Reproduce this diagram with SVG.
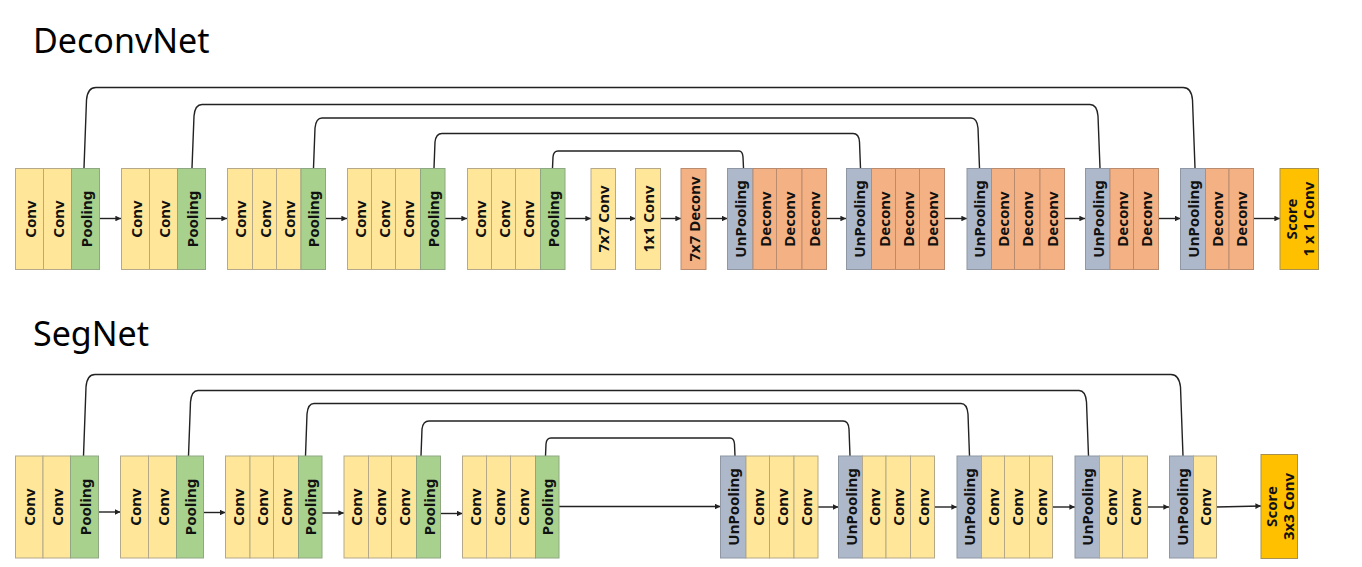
<svg xmlns="http://www.w3.org/2000/svg" width="1362" height="567" viewBox="0 0 1362 567">
<style>
.c{fill:#FFE699;stroke:#B5A98A;stroke-width:1}
.p{fill:#A9D18E;stroke:#8FA883;stroke-width:1}
.u{fill:#ADB9CA;stroke:#8E97A3;stroke-width:1}
.d{fill:#F4B183;stroke:#B98C70;stroke-width:1}
.s{fill:#FFC000;stroke:#A8914F;stroke-width:1}
.t{font-family:"Noto Sans","Open Sans",sans-serif;font-weight:bold;font-size:15px;fill:#111;text-anchor:middle;dominant-baseline:central}
.title{font-family:"Noto Sans","Open Sans",sans-serif;font-size:34px;fill:#000}
.ln{fill:none;stroke:#222;stroke-width:1.4}
.ar{fill:none;stroke:#222;stroke-width:1.4;marker-end:url(#ah)}
</style>
<defs>
<marker id="ah" viewBox="0 0 10 10" refX="10" refY="5" markerWidth="4" markerHeight="4" orient="auto" markerUnits="strokeWidth">
<path d="M0,0 L10,5 L0,10 z" fill="#222"/>
</marker>
</defs>
<rect width="1362" height="567" fill="#fff"/>
<text class="title" x="33" y="53">DeconvNet</text>
<text class="title" x="33" y="346">SegNet</text>

<g id="connectors">
<path class="ln" d="M84 168 L86.5 100 Q87.5 87.5 96 87.5 L1183 87.5 Q1191.5 87.5 1192.5 100 L1195 168"/>
<path class="ln" d="M192 168 L194 116 Q195 104.5 202 104.5 L1090 104.5 Q1097 104.5 1098 116 L1100 168"/>
<path class="ln" d="M313.5 168 L315 128 Q316 118 322 118 L971 118 Q977 118 978 128 L979.5 168"/>
<path class="ln" d="M434 168 L435 142 Q436 133.5 442 133.5 L853 133.5 Q859 133.5 859.5 142 L860.5 168"/>
<path class="ln" d="M552.5 168 L553 157 Q553.5 151 558 151 L739 151 Q742.5 151 743 157 L743.5 168"/>
<path class="ar" d="M99.5 218.5 H121"/>
<path class="ar" d="M205.5 218.5 H227"/>
<path class="ar" d="M325.5 218.5 H347"/>
<path class="ar" d="M445 218.5 H467"/>
<path class="ar" d="M565 218.5 H591"/>
<path class="ar" d="M615.5 218.5 H635.5"/>
<path class="ar" d="M660.5 218.5 H681"/>
<path class="ar" d="M706 218.5 H727.5"/>
<path class="ar" d="M826.5 218.5 H846"/>
<path class="ar" d="M944.5 218.5 H967"/>
<path class="ar" d="M1064.5 218.5 H1085"/>
<path class="ar" d="M1158.5 218.5 H1180.5"/>
<path class="ar" d="M1253.5 218.5 H1280"/>
<path class="ln" d="M83.5 456 L86 387 Q87 374.5 95 374.5 L1171 374.5 Q1179 374.5 1180.5 387 L1183 456"/>
<path class="ln" d="M188.5 456 L190.5 402 Q191.5 390.5 198 390.5 L1079 390.5 Q1085.5 390.5 1086.5 402 L1088.5 456"/>
<path class="ln" d="M305.5 456 L307 414 Q308 403.5 314 403.5 L961 403.5 Q967 403.5 968 414 L969.5 456"/>
<path class="ln" d="M421 456 L422 429 Q423 421 429 421 L843 421 Q848.5 421 849 429 L850 456"/>
<path class="ln" d="M545.5 456 L546 444 Q546.5 438 551 438 L730 438 Q734 438 734.5 444 L735 456"/>
<path class="ar" d="M98.5 512 H120.5"/>
<path class="ar" d="M203.5 512.5 H225.5"/>
<path class="ar" d="M322 513 H344"/>
<path class="ar" d="M440.5 513.5 H462.5"/>
<path class="ar" d="M559 506.5 H720.5"/>
<path class="ar" d="M818 507 H838.5"/>
<path class="ar" d="M934.5 507 H957"/>
<path class="ar" d="M1052.5 507 H1075"/>
<path class="ar" d="M1147.5 507 H1169"/>
<path class="ar" d="M1216.5 507 L1261 506"/>
</g>

<g id="d-enc1">
<rect class="c" x="15.5" y="168.5" width="28" height="101"/><text class="t" transform="translate(29.5,219) rotate(-90)">Conv</text>
<rect class="c" x="43.5" y="168.5" width="28" height="101"/><text class="t" transform="translate(57.5,219) rotate(-90)">Conv</text>
<rect class="p" x="71.5" y="168.5" width="28" height="101"/><text class="t" transform="translate(85.5,219) rotate(-90)">Pooling</text>
</g>
<g id="d-enc2">
<rect class="c" x="121.5" y="168.5" width="28" height="101"/><text class="t" transform="translate(135.5,219) rotate(-90)">Conv</text>
<rect class="c" x="149.5" y="168.5" width="28" height="101"/><text class="t" transform="translate(163.5,219) rotate(-90)">Conv</text>
<rect class="p" x="177.5" y="168.5" width="28" height="101"/><text class="t" transform="translate(191.5,219) rotate(-90)">Pooling</text>
</g>
<g id="d-enc3">
<rect class="c" x="227.5" y="168.5" width="25" height="101"/><text class="t" transform="translate(240,219) rotate(-90)">Conv</text>
<rect class="c" x="252.5" y="168.5" width="24" height="101"/><text class="t" transform="translate(264.5,219) rotate(-90)">Conv</text>
<rect class="c" x="276.5" y="168.5" width="24.5" height="101"/><text class="t" transform="translate(288.75,219) rotate(-90)">Conv</text>
<rect class="p" x="301" y="168.5" width="24.5" height="101"/><text class="t" transform="translate(313.25,219) rotate(-90)">Pooling</text>
</g>
<g id="d-enc4">
<rect class="c" x="347.5" y="168.5" width="24" height="101"/><text class="t" transform="translate(359.5,219) rotate(-90)">Conv</text>
<rect class="c" x="371.5" y="168.5" width="24" height="101"/><text class="t" transform="translate(383.5,219) rotate(-90)">Conv</text>
<rect class="c" x="395.5" y="168.5" width="25" height="101"/><text class="t" transform="translate(408,219) rotate(-90)">Conv</text>
<rect class="p" x="420.5" y="168.5" width="24.5" height="101"/><text class="t" transform="translate(432.75,219) rotate(-90)">Pooling</text>
</g>
<g id="d-enc5">
<rect class="c" x="467.5" y="168.5" width="24" height="101"/><text class="t" transform="translate(479.5,219) rotate(-90)">Conv</text>
<rect class="c" x="491.5" y="168.5" width="24" height="101"/><text class="t" transform="translate(503.5,219) rotate(-90)">Conv</text>
<rect class="c" x="515.5" y="168.5" width="25" height="101"/><text class="t" transform="translate(528,219) rotate(-90)">Conv</text>
<rect class="p" x="540.5" y="168.5" width="24.5" height="101"/><text class="t" transform="translate(552.75,219) rotate(-90)">Pooling</text>
</g>
<g id="d-fc7">
<rect class="c" x="591" y="168.5" width="24.5" height="101"/><text class="t" transform="translate(603.25,219) rotate(-90)">7x7 Conv</text>
</g>
<g id="d-fc1">
<rect class="c" x="635.5" y="168.5" width="25" height="101"/><text class="t" transform="translate(648,219) rotate(-90)">1x1 Conv</text>
</g>
<g id="d-deconv7">
<rect class="d" x="681" y="168.5" width="25" height="101"/><text class="t" transform="translate(693.5,219) rotate(-90)">7x7 Deconv</text>
</g>
<g id="d-dec1">
<rect class="u" x="727.5" y="168.5" width="25.5" height="101"/><text class="t" transform="translate(740.25,219) rotate(-90)">UnPooling</text>
<rect class="d" x="753" y="168.5" width="23.5" height="101"/><text class="t" transform="translate(764.75,219) rotate(-90)">Deconv</text>
<rect class="d" x="776.5" y="168.5" width="25.5" height="101"/><text class="t" transform="translate(789.25,219) rotate(-90)">Deconv</text>
<rect class="d" x="802" y="168.5" width="24.5" height="101"/><text class="t" transform="translate(814.25,219) rotate(-90)">Deconv</text>
</g>
<g id="d-dec2">
<rect class="u" x="846.5" y="168.5" width="25" height="101"/><text class="t" transform="translate(859,219) rotate(-90)">UnPooling</text>
<rect class="d" x="871.5" y="168.5" width="24" height="101"/><text class="t" transform="translate(883.5,219) rotate(-90)">Deconv</text>
<rect class="d" x="895.5" y="168.5" width="24" height="101"/><text class="t" transform="translate(907.5,219) rotate(-90)">Deconv</text>
<rect class="d" x="919.5" y="168.5" width="25" height="101"/><text class="t" transform="translate(932,219) rotate(-90)">Deconv</text>
</g>
<g id="d-dec3">
<rect class="u" x="967" y="168.5" width="24.5" height="101"/><text class="t" transform="translate(979.25,219) rotate(-90)">UnPooling</text>
<rect class="d" x="991.5" y="168.5" width="23" height="101"/><text class="t" transform="translate(1003,219) rotate(-90)">Deconv</text>
<rect class="d" x="1014.5" y="168.5" width="25.5" height="101"/><text class="t" transform="translate(1027.25,219) rotate(-90)">Deconv</text>
<rect class="d" x="1040" y="168.5" width="24.5" height="101"/><text class="t" transform="translate(1052.25,219) rotate(-90)">Deconv</text>
</g>
<g id="d-dec4">
<rect class="u" x="1085.5" y="168.5" width="24.5" height="101"/><text class="t" transform="translate(1097.75,219) rotate(-90)">UnPooling</text>
<rect class="d" x="1110" y="168.5" width="23.5" height="101"/><text class="t" transform="translate(1121.75,219) rotate(-90)">Deconv</text>
<rect class="d" x="1133.5" y="168.5" width="25" height="101"/><text class="t" transform="translate(1146,219) rotate(-90)">Deconv</text>
</g>
<g id="d-dec5">
<rect class="u" x="1180.5" y="168.5" width="25" height="101"/><text class="t" transform="translate(1193,219) rotate(-90)">UnPooling</text>
<rect class="d" x="1205.5" y="168.5" width="23.5" height="101"/><text class="t" transform="translate(1217.25,219) rotate(-90)">Deconv</text>
<rect class="d" x="1229" y="168.5" width="24.5" height="101"/><text class="t" transform="translate(1241.25,219) rotate(-90)">Deconv</text>
</g>
<g id="d-score">
<rect class="s" x="1280" y="168.5" width="38.5" height="101"/>
<text class="t" transform="translate(1299.25,219) rotate(-90)"><tspan x="0" y="-8.5">Score</tspan><tspan x="0" y="8.5">1 x 1 Conv</tspan></text>
</g>

<g id="s-enc1">
<rect class="c" x="15.5" y="456" width="27.5" height="102"/><text class="t" transform="translate(29.25,507) rotate(-90)">Conv</text>
<rect class="c" x="43" y="456" width="27.5" height="102"/><text class="t" transform="translate(56.75,507) rotate(-90)">Conv</text>
<rect class="p" x="70.5" y="456" width="28" height="102"/><text class="t" transform="translate(84.5,507) rotate(-90)">Pooling</text>
</g>
<g id="s-enc2">
<rect class="c" x="120.5" y="456" width="28" height="102"/><text class="t" transform="translate(134.5,507) rotate(-90)">Conv</text>
<rect class="c" x="148.5" y="456" width="28" height="102"/><text class="t" transform="translate(162.5,507) rotate(-90)">Conv</text>
<rect class="p" x="176.5" y="456" width="27" height="102"/><text class="t" transform="translate(190,507) rotate(-90)">Pooling</text>
</g>
<g id="s-enc3">
<rect class="c" x="225.5" y="456" width="24.5" height="102"/><text class="t" transform="translate(237.75,507) rotate(-90)">Conv</text>
<rect class="c" x="250" y="456" width="23.5" height="102"/><text class="t" transform="translate(261.75,507) rotate(-90)">Conv</text>
<rect class="c" x="273.5" y="456" width="25" height="102"/><text class="t" transform="translate(286,507) rotate(-90)">Conv</text>
<rect class="p" x="298.5" y="456" width="23.5" height="102"/><text class="t" transform="translate(310.25,507) rotate(-90)">Pooling</text>
</g>
<g id="s-enc4">
<rect class="c" x="344" y="456" width="24.5" height="102"/><text class="t" transform="translate(356.25,507) rotate(-90)">Conv</text>
<rect class="c" x="368.5" y="456" width="23" height="102"/><text class="t" transform="translate(380,507) rotate(-90)">Conv</text>
<rect class="c" x="391.5" y="456" width="25" height="102"/><text class="t" transform="translate(404,507) rotate(-90)">Conv</text>
<rect class="p" x="416.5" y="456" width="24" height="102"/><text class="t" transform="translate(428.5,507) rotate(-90)">Pooling</text>
</g>
<g id="s-enc5">
<rect class="c" x="462.5" y="456" width="24" height="102"/><text class="t" transform="translate(474.5,507) rotate(-90)">Conv</text>
<rect class="c" x="486.5" y="456" width="24" height="102"/><text class="t" transform="translate(498.5,507) rotate(-90)">Conv</text>
<rect class="c" x="510.5" y="456" width="25" height="102"/><text class="t" transform="translate(523,507) rotate(-90)">Conv</text>
<rect class="p" x="535.5" y="456" width="23.5" height="102"/><text class="t" transform="translate(547.25,507) rotate(-90)">Pooling</text>
</g>
<g id="s-dec1">
<rect class="u" x="720.5" y="456" width="25.5" height="102"/><text class="t" transform="translate(733.25,507) rotate(-90)">UnPooling</text>
<rect class="c" x="746" y="456" width="23.5" height="102"/><text class="t" transform="translate(757.75,507) rotate(-90)">Conv</text>
<rect class="c" x="769.5" y="456" width="24.5" height="102"/><text class="t" transform="translate(781.75,507) rotate(-90)">Conv</text>
<rect class="c" x="794" y="456" width="24" height="102"/><text class="t" transform="translate(806,507) rotate(-90)">Conv</text>
</g>
<g id="s-dec2">
<rect class="u" x="838.5" y="456" width="24" height="102"/><text class="t" transform="translate(850.5,507) rotate(-90)">UnPooling</text>
<rect class="c" x="862.5" y="456" width="23.5" height="102"/><text class="t" transform="translate(874.25,507) rotate(-90)">Conv</text>
<rect class="c" x="886" y="456" width="24.5" height="102"/><text class="t" transform="translate(898.25,507) rotate(-90)">Conv</text>
<rect class="c" x="910.5" y="456" width="24" height="102"/><text class="t" transform="translate(922.5,507) rotate(-90)">Conv</text>
</g>
<g id="s-dec3">
<rect class="u" x="957" y="456" width="24.5" height="102"/><text class="t" transform="translate(969.25,507) rotate(-90)">UnPooling</text>
<rect class="c" x="981.5" y="456" width="23" height="102"/><text class="t" transform="translate(993,507) rotate(-90)">Conv</text>
<rect class="c" x="1004.5" y="456" width="25" height="102"/><text class="t" transform="translate(1017,507) rotate(-90)">Conv</text>
<rect class="c" x="1029.5" y="456" width="23" height="102"/><text class="t" transform="translate(1041,507) rotate(-90)">Conv</text>
</g>
<g id="s-dec4">
<rect class="u" x="1075" y="456" width="24.5" height="102"/><text class="t" transform="translate(1087.25,507) rotate(-90)">UnPooling</text>
<rect class="c" x="1099.5" y="456" width="23" height="102"/><text class="t" transform="translate(1111,507) rotate(-90)">Conv</text>
<rect class="c" x="1122.5" y="456" width="25" height="102"/><text class="t" transform="translate(1135,507) rotate(-90)">Conv</text>
</g>
<g id="s-dec5">
<rect class="u" x="1169.5" y="456" width="24" height="102"/><text class="t" transform="translate(1181.5,507) rotate(-90)">UnPooling</text>
<rect class="c" x="1193.5" y="456" width="23" height="102"/><text class="t" transform="translate(1205,507) rotate(-90)">Conv</text>
</g>
<g id="s-score">
<rect class="s" x="1261" y="454.5" width="36.5" height="104"/>
<text class="t" transform="translate(1279.25,506.5) rotate(-90)"><tspan x="0" y="-8.5">Score</tspan><tspan x="0" y="8.5">3x3 Conv</tspan></text>
</g>
</svg>
